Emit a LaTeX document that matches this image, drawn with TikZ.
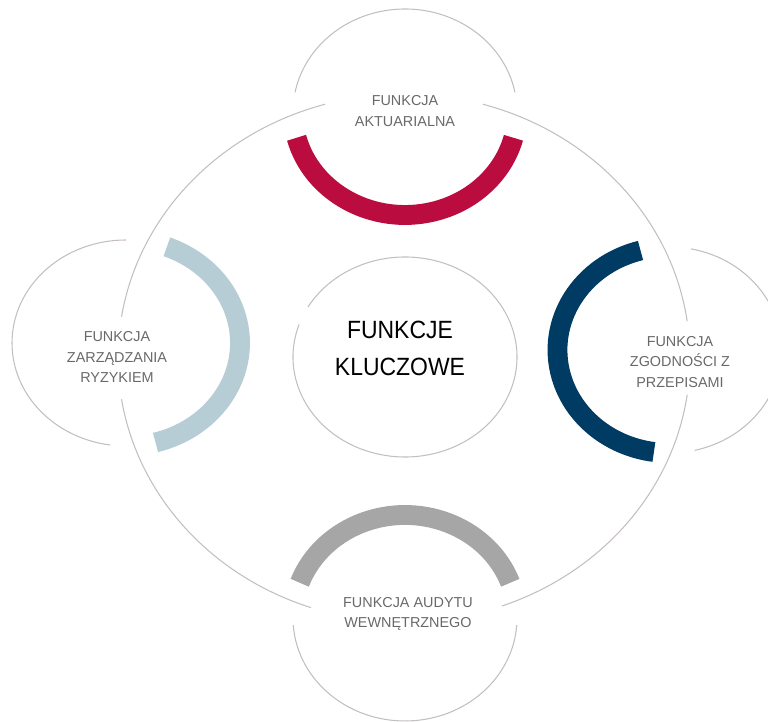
\documentclass[tikz,border=0pt]{standalone}
\usepackage{fontspec}
\newfontfamily\labelfont{Liberation Sans}
\newfontfamily\keyfont[FakeStretch=0.92]{Liberation Sans}
\usetikzlibrary{positioning}

\definecolor{ringgray}{RGB}{196,190,190}
\definecolor{labelgray}{RGB}{105,105,105}
\definecolor{aktred}{RGB}{186,12,62}
\definecolor{zgodblue}{RGB}{0,59,100}
\definecolor{ryzblue}{RGB}{183,205,214}
\definecolor{audgray}{RGB}{166,166,166}

\begin{document}
\begin{tikzpicture}[x=0.02cm, y=0.02cm,
    thinring/.style={draw=ringgray, line width=0.6pt},
    bandarc/.style={line width=11.3pt},
    funlabel/.style={align=center, text=labelgray, font=\labelfont\fontsize{8.2}{11.9}\selectfont},
    keylabel/.style={align=center, text=black, font=\keyfont\fontsize{14.2}{21}\selectfont}
]
    \useasboundingbox (0,0) rectangle (768,722);

    % centres of the rings
    \coordinate (big) at (404,364);
    \coordinate (core) at (405,365);
    \coordinate (akt) at (405,610);
    \coordinate (ryz) at (126,379);
    \coordinate (zgod) at (669.5,372);
    \coordinate (aud) at (405,104);

    % big ring, open where the labels sit
    \draw[thinring] (big) ++(8:286 and 264) arc[start angle=8, end angle=74, x radius=286, y radius=264];
    \draw[thinring] (big) ++(106:286 and 264) arc[start angle=106, end angle=171, x radius=286, y radius=264];
    \draw[thinring] (big) ++(189:286 and 264) arc[start angle=189, end angle=251, x radius=286, y radius=264];
    \draw[thinring] (big) ++(290:286 and 264) arc[start angle=290, end angle=352, x radius=286, y radius=264];

    \draw[thinring] (core) ++(161:112 and 100) arc[start angle=161, end angle=510, x radius=112, y radius=100];

    % outer halves of the small rings
    \draw[thinring] (akt) ++(11:112 and 103) arc[start angle=11, end angle=169, x radius=112, y radius=103];
    \draw[thinring] (ryz) ++(90:114 and 103) arc[start angle=90, end angle=262, x radius=114, y radius=103];
    \draw[thinring] (zgod) ++(-77:112 and 103) arc[start angle=-77, end angle=79, x radius=112, y radius=103];
    \draw[thinring] (aud) ++(184:112 and 103) arc[start angle=184, end angle=356, x radius=112, y radius=103];

    % coloured bands
    \draw[bandarc, aktred] (akt) ++(194.5:112 and 103) arc[start angle=194.5, end angle=345.5, x radius=112, y radius=103];
    \draw[bandarc, ryzblue] (ryz) ++(-75:114 and 103) arc[start angle=-75, end angle=69, x radius=114, y radius=103];
    \draw[bandarc, zgodblue] (zgod) ++(105:112 and 103) arc[start angle=105, end angle=262, x radius=112, y radius=103];
    \draw[bandarc, audgray] (aud) ++(20:112 and 103) arc[start angle=20, end angle=160, x radius=112, y radius=103];

    \node[funlabel] (aktlabel) at (405,611) {FUNKCJA\\AKTUARIALNA};
    \node[funlabel] (ryzlabel) at (117,365) {FUNKCJA\\ZARZĄDZANIA\\RYZYKIEM};
    \node[funlabel] (zgodlabel) at (680,360) {FUNKCJA\\ZGODNOŚCI Z\\PRZEPISAMI};
    \node[funlabel] (audlabel) at (408,108) {FUNKCJA AUDYTU\\WEWNĘTRZNEGO};
    \node[keylabel] (corelabel) at (400,374) {FUNKCJE\\KLUCZOWE};
\end{tikzpicture}
\end{document}
